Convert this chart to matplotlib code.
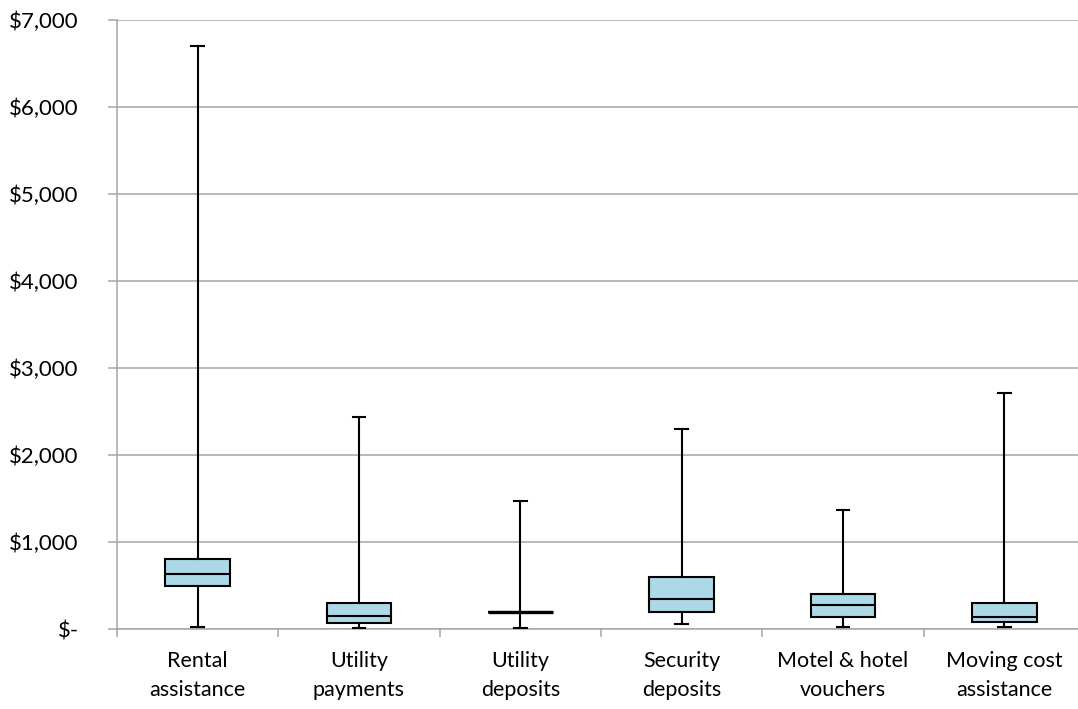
import matplotlib
matplotlib.use("Agg")
import matplotlib.pyplot as plt
from matplotlib.ticker import FuncFormatter

plt.rcParams['font.family'] = ['Lato', 'DejaVu Sans']

categories = ["Rental\nassistance", "Utility\npayments", "Utility\ndeposits",
              "Security\ndeposits", "Motel & hotel\nvouchers", "Moving cost\nassistance"]
whisker_low = [25, 15, 10, 55, 25, 20]
q1 = [500, 65, 200, 200, 140, 80]
median = [630, 150, 200, 350, 275, 140]
q3 = [800, 300, 200, 600, 400, 300]
whisker_high = [6700, 2440, 1470, 2300, 1370, 2710]
y_ticks = [0, 1000, 2000, 3000, 4000, 5000, 6000, 7000]

W, H = 1078, 709
fig = plt.figure(figsize=(W / 100, H / 100), dpi=100)
left, right, top, bottom = 117, 1085, 20, 629
ax = fig.add_axes([left / W, 1 - bottom / H, (right - left) / W, (bottom - top) / H])

stats = []
for i, lab in enumerate(categories):
    stats.append(dict(label=lab, whislo=whisker_low[i], q1=q1[i], med=median[i],
                      q3=q3[i], whishi=whisker_high[i], fliers=[]))

lw = 1.5
positions = list(range(1, len(categories) + 1))
parts = ax.bxp(stats, positions=positions, widths=0.4, capwidths=0.08, patch_artist=True,
               showfliers=False,
               boxprops=dict(facecolor="#add8e6", edgecolor="black", linewidth=lw),
               medianprops=dict(color="black", linewidth=lw),
               whiskerprops=dict(color="black", linewidth=lw),
               capprops=dict(color="black", linewidth=lw),
               zorder=3)

# a collapsed box (Q1 == Q3) shows as a single heavier bar
for i, med_line in enumerate(parts["medians"]):
    if q1[i] == q3[i]:
        med_line.set_linewidth(2.4)

ax.set_xlim(0.5, len(categories) + 0.5)
ax.set_ylim(0, 7000)
ax.set_yticks(y_ticks)
ax.yaxis.set_major_formatter(FuncFormatter(lambda v, p: "$-" if v == 0 else f"${v:,.0f}"))
ax.grid(axis="y", color="#a6a6a6", linewidth=1.1, zorder=0)
ax.set_axisbelow(True)

# category boundaries carry the x tick marks; labels sit at box centres
ax.set_xticks([p + 0.5 for p in [0] + positions])
ax.set_xticklabels([])
ax.set_xticks(positions, minor=True)
ax.set_xticklabels(categories, minor=True, fontsize=15.5, linespacing=1.55)
ax.tick_params(axis="x", which="minor", length=0, pad=16)
ax.tick_params(axis="x", which="major", length=6, width=1.1, color="#a6a6a6", direction="out")
ax.tick_params(axis="y", length=6.5, width=1.1, color="#a6a6a6", labelsize=16, pad=21)

for s in ["top", "right"]:
    ax.spines[s].set_visible(False)
for s in ["left", "bottom"]:
    ax.spines[s].set_color("#a6a6a6")
    ax.spines[s].set_linewidth(1.1)

fig.savefig("out.png", dpi=100)
